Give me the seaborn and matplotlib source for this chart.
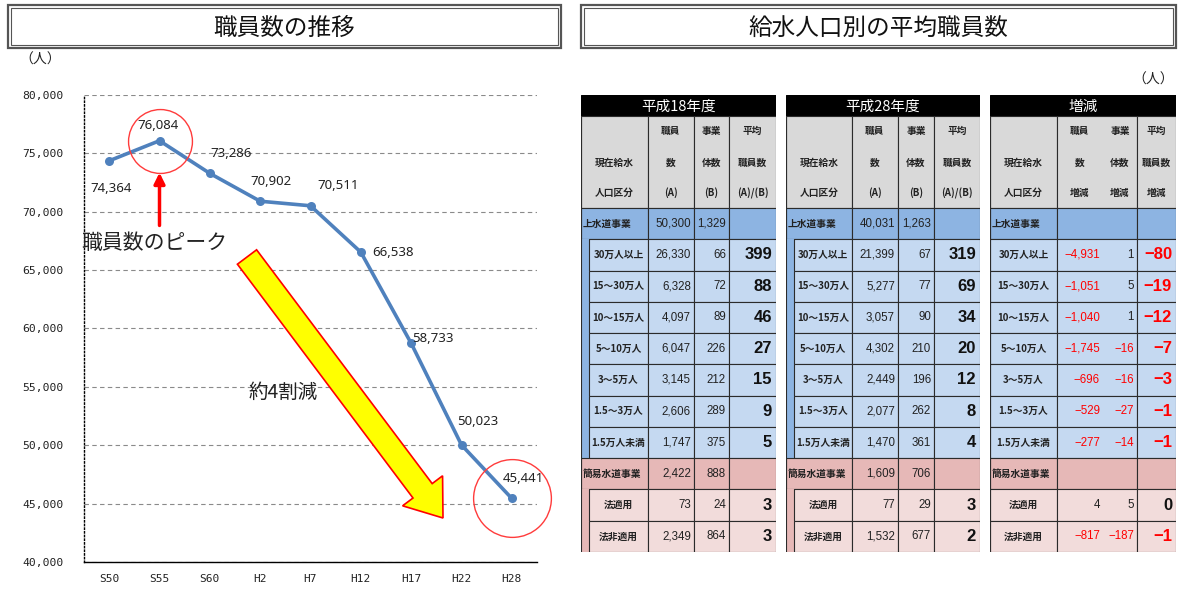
import numpy as np
import pandas as pd
import matplotlib.pyplot as plt
import matplotlib.patches as mpatches
import seaborn as sns

# line chart data
periods = ['S50', 'S55', 'S60', 'H2', 'H7', 'H12', 'H17', 'H22', 'H28']
staff = [74364, 76084, 73286, 70902, 70511, 66538, 58733, 50023, 45441]

# table data
row_names = ['上水道事業', '30万人以上', '15～30万人', '10～15万人', '5～10万人', '3～5万人',
             '1.5～3万人', '1.5万人未満', '簡易水道事業', '法適用', '法非適用']
h18_staff = [50300, 26330, 6328, 4097, 6047, 3145, 2606, 1747, 2422, 73, 2349]
h18_ent = [1329, 66, 72, 89, 226, 212, 289, 375, 888, 24, 864]
h18_avg = [None, 399, 88, 46, 27, 15, 9, 5, None, 3, 3]
h28_staff = [40031, 21399, 5277, 3057, 4302, 2449, 2077, 1470, 1609, 77, 1532]
h28_ent = [1263, 67, 77, 90, 210, 196, 262, 361, 706, 29, 677]
h28_avg = [None, 319, 69, 34, 20, 12, 8, 4, None, 3, 2]
diff_staff = [None, -4931, -1051, -1040, -1745, -696, -529, -277, None, 4, -817]
diff_ent = [None, 1, 5, 1, -16, -16, -27, -14, None, 5, -187]
diff_avg = [None, -80, -19, -12, -7, -3, -1, -1, None, 0, -1]

sns.set_style('white')
plt.rcParams['font.family'] = ['Noto Sans CJK JP', 'DejaVu Sans']

W, H = 1192, 589
fig = plt.figure(figsize=(W / 100, H / 100), dpi=100)


def px_axes(left, top, width, height):
    return fig.add_axes([left / W, 1 - (top + height) / H, width / W, height / H])


# ---- line chart ----
ax = px_axes(84, 95, 453, 467)
df = pd.DataFrame({'x': np.arange(len(periods)), 'staff': staff})
sns.lineplot(data=df, x='x', y='staff', ax=ax, color='#4F81BD', lw=2.6,
             marker='o', markersize=6.5, markeredgewidth=0)
ax.set_xlim(-0.5, len(periods) - 0.5)
ax.set_ylim(40000, 80000)
ax.set_xlabel('')
ax.set_ylabel('')
ax.set_xticks(np.arange(len(periods)))
ax.set_xticklabels(periods, family='DejaVu Sans Mono', fontsize=8)
ax.set_xticks(np.arange(len(periods) + 1) - 0.5, minor=True)
yt = list(range(40000, 80001, 5000))
ax.set_yticks(yt)
ax.set_yticklabels([f'{v:,}' for v in yt], family='DejaVu Sans Mono', fontsize=8.2)
ax.tick_params(axis='x', which='major', length=0, pad=9, colors='#222')
ax.tick_params(axis='x', which='minor', length=5, direction='out', color='black', width=0.8)
ax.tick_params(axis='y', length=6, direction='inout', color='black', width=0.8, pad=12, colors='#222')
ax.yaxis.grid(True, linestyle=(0, (4, 3)), color='#8a8a8a', lw=0.8)
ax.xaxis.grid(False)
for s in ['top', 'right']:
    ax.spines[s].set_visible(False)
ax.spines['left'].set_linestyle(':')
ax.spines['left'].set_color('black')
ax.spines['bottom'].set_color('black')
ax.spines['left'].set_linewidth(1)
ax.spines['bottom'].set_linewidth(1)

label_offsets = [(2, -28), (-2, 15), (21, 20), (11, 20), (28, 20), (32, 0), (22, 5), (16, 23), (12, 20)]
for i, v in enumerate(staff):
    dx, dy = label_offsets[i]
    ax.annotate(f'{v:,}', (i, v), xytext=(dx * 0.72, dy * 0.72), textcoords='offset points',
                ha='center', va='center', fontsize=9.5, family='Noto Sans', color='#222')

peak_i = int(np.argmax(staff))
last_i = len(staff) - 1
ax.plot([peak_i], [staff[peak_i]], marker='o', ms=46, mfc='none', mec='#FF3B3B', mew=1, clip_on=False)
ax.plot([last_i], [staff[last_i]], marker='o', ms=56, mfc='none', mec='#FF3B3B', mew=1, clip_on=False)
ax.annotate('', xy=(peak_i, staff[peak_i]), xytext=(0, -61), textcoords='offset points',
            arrowprops=dict(arrowstyle='-|>', color='#FF0000', lw=2.5, shrinkA=0, shrinkB=23,
                            mutation_scale=16))
ax.text(-0.005, 0.683, '職員数のピーク', transform=ax.transAxes, fontsize=15,
        ha='left', va='center', color='#222')
ax.text(0.439, 0.364, '約4割減', transform=ax.transAxes, fontsize=14,
        ha='center', va='center', color='#222')

# ---- tables ----
top = 95
head_h, gray_h = 21, 92
row_h = (552 - 208) / len(row_names)
strip_w = 8
c_gray, c_blue, c_lblue, c_pink, c_lpink = '#D9D9D9', '#8DB4E2', '#C5D9F1', '#E6B8B7', '#F2DCDB'
c_line = '#2b2b2b'
parents = ['上水道事業', '簡易水道事業']


def fmt(v):
    return f'{v:,}'.replace('-', '−')


def draw_table(left, title, col_w, heads, v_a, v_b, v_avg, merge_ab=False, strip=True):
    tw = sum(col_w)
    th = head_h + gray_h + row_h * len(row_names)
    t = px_axes(left, top, tw, th)
    t.set_xlim(0, tw)
    t.set_ylim(th, 0)
    t.axis('off')
    xs = np.concatenate([[0], np.cumsum(col_w)])
    bounds = [b for k, b in enumerate(xs) if not (merge_ab and k == 2)]

    t.add_patch(mpatches.Rectangle((0, 0), tw, head_h, fc='black', ec='black', lw=0.8))
    t.text(tw / 2, head_h / 2 + 1, title, color='white', ha='center', va='center', fontsize=10.5)
    for a, b in zip(bounds[:-1], bounds[1:]):
        t.add_patch(mpatches.Rectangle((a, head_h), b - a, gray_h, fc=c_gray, ec=c_line, lw=0.8))
    line_y = [15, 47, 77]
    for j, lines in enumerate(heads):
        for k, s in enumerate(lines):
            if not s:
                continue
            t.text((xs[j] + xs[j + 1]) / 2, head_h + line_y[k], s, ha='center', va='center',
                   fontsize=7, fontweight='bold', color='#222')

    group = None
    for i, name in enumerate(row_names):
        y0 = head_h + gray_h + i * row_h
        if name in parents:
            group = name
        dark = c_blue if group == parents[0] else c_pink
        light = c_lblue if group == parents[0] else c_lpink
        is_parent = name in parents
        fill = dark if is_parent else light
        x_lab = 0
        if strip and not is_parent:
            t.add_patch(mpatches.Rectangle((0, y0), strip_w, row_h, fc=dark, ec='none'))
            x_lab = strip_w
        for k, (a, b) in enumerate(zip(bounds[:-1], bounds[1:])):
            a0 = x_lab if k == 0 else a
            t.add_patch(mpatches.Rectangle((a0, y0), b - a0, row_h, fc=fill, ec=c_line, lw=0.8))
        yc = y0 + row_h / 2
        if is_parent:
            t.text(2, yc, name, ha='left', va='center', fontsize=7,
                   fontweight='bold', color='#222')
        else:
            t.text((x_lab + xs[1]) / 2, yc, name, ha='center', va='center', fontsize=7,
                   fontweight='bold', color='#222')
        for j, vals in ((1, v_a), (2, v_b)):
            v = vals[i]
            if v is None:
                continue
            t.text(xs[j + 1] - 3, yc, fmt(v), ha='right', va='center', fontsize=8.3,
                   family='Liberation Sans', color='#FF0000' if v < 0 else '#222')
        v = v_avg[i]
        if v is not None:
            t.text(xs[4] - 4, yc, fmt(v), ha='right', va='center', fontsize=12, fontweight='bold',
                   family='Liberation Sans', color='#FF0000' if v < 0 else '#111')
    t.plot([0, 0], [head_h, th], color=c_line, lw=0.8, solid_capstyle='butt')


heads_main = [['', '現在給水', '人口区分'], ['職員', '数', '(A)'], ['事業', '体数', '(B)'],
              ['平均', '職員数', '(A)/(B)']]
heads_diff = [['', '現在給水', '人口区分'], ['職員', '数', '増減'], ['事業', '体数', '増減'],
              ['平均', '職員数', '増減']]
draw_table(581, '平成18年度', [67, 46, 35, 47], heads_main, h18_staff, h18_ent, h18_avg)
draw_table(786, '平成28年度', [66, 46, 36, 46], heads_main, h28_staff, h28_ent, h28_avg)
draw_table(990, '増減', [67, 46, 34, 39], heads_diff, diff_staff, diff_ent, diff_avg,
           merge_ab=True, strip=False)

# ---- overlay: titles, units, big arrow ----
cv = fig.add_axes([0, 0, 1, 1])
cv.set_xlim(0, W)
cv.set_ylim(H, 0)
cv.axis('off')
cv.patch.set_alpha(0)
for x0, w, title in ((8, 553, '職員数の推移'), (581, 595, '給水人口別の平均職員数')):
    cv.add_patch(mpatches.Rectangle((x0, 5), w, 43, fill=False, ec='#555', lw=1.6))
    cv.add_patch(mpatches.Rectangle((x0 + 3, 8), w - 6, 37, fill=False, ec='#555', lw=0.8))
    cv.text(x0 + w / 2, 28, title, ha='center', va='center', fontsize=17, color='#111')
cv.text(40, 60, '（人）', ha='center', va='center', fontsize=10, color='#222')
cv.text(1153, 80, '（人）', ha='center', va='center', fontsize=10, color='#222')
cv.add_patch(mpatches.FancyArrow(247, 257, 196, 261, width=24, head_width=50, head_length=34,
                                 length_includes_head=True, fc='#FFFF00', ec='#FF0000', lw=1.2))

fig.savefig('out.png', dpi=100, facecolor='white')
